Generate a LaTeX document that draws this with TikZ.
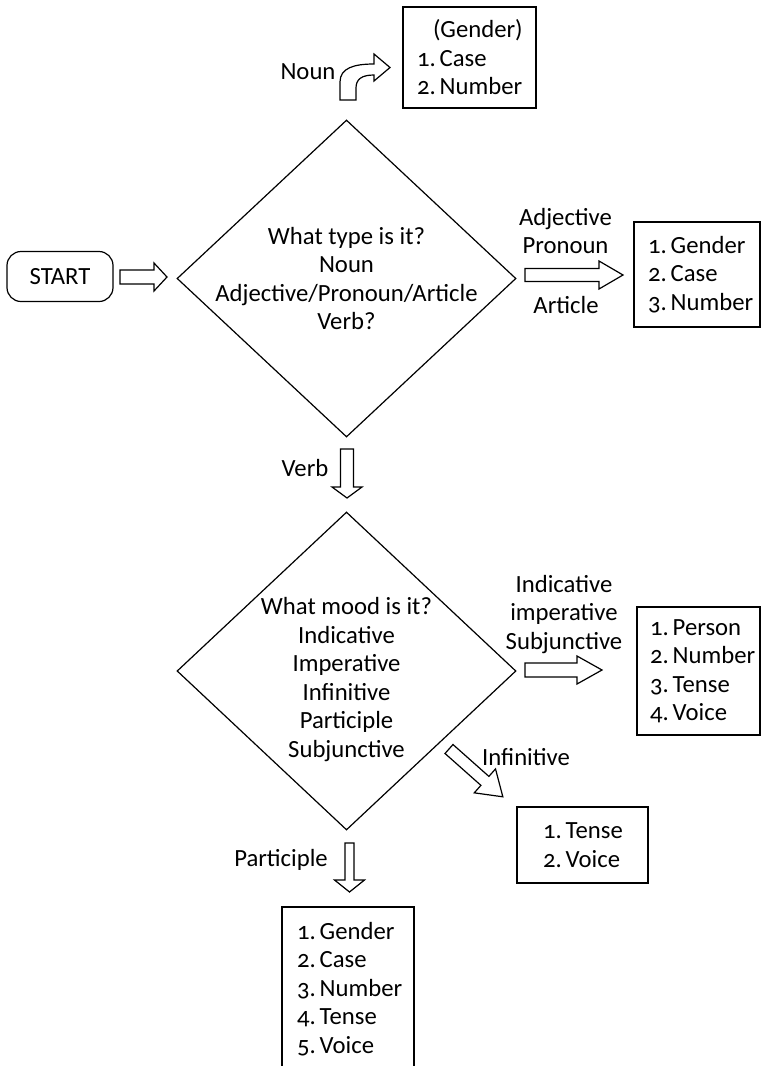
\documentclass[tikz,border=0pt]{standalone}
\usepackage{fontspec}
\setmainfont[Numbers=OldStyle]{Carlito}
\usetikzlibrary{shapes.geometric}
\frenchspacing
\hyphenpenalty=10000
\exhyphenpenalty=10000
\hbadness=10000
\hfuzz=100pt
\newcommand\itm[2]{#1.\kern4pt#2}
\newcommand\blockarr[7]{% name, start, angle, length, shaft half, head half, head length
  \coordinate (#1) at #2;
  \draw[arrline,shift={(#1)},rotate=#3] (0,-#5) -- ({#4-#7},-#5) -- ({#4-#7},-#6) -- (#4,0)
    -- ({#4-#7},#6) -- ({#4-#7},#5) -- (0,#5) -- cycle;}
\begin{document}
\begin{tikzpicture}[x=1pt,y=-1pt,
  every node/.style={font=\fontsize{24.7}{28.5}\selectfont, inner sep=0pt},
  arrline/.style={draw=black, line width=1.2pt, fill=white, line join=miter},
  box/.style={draw, line width=1.2pt, align=left, anchor=center},
  dia/.style={diamond, draw, line width=1.2pt, inner sep=0pt},
  lbl/.style={align=center}]
\useasboundingbox (0,0) rectangle (761,1066);
\clip (0,0) rectangle (761,1066);

% start
\node[draw, line width=1.2pt, rounded corners=14pt, minimum width=106pt, minimum height=50pt] (start) at (60,276.5) {START};

% diamonds
\node[dia, minimum width=339pt, minimum height=317pt] (d1) at (346.5,278.5) {};
\node[lbl] (d1t) at (d1.center) {What type is it?\\Noun\\Adjective/Pronoun/Article\\Verb?};
\node[dia, minimum width=339pt, minimum height=318pt] (d2) at (346.5,671) {};
\node[lbl] (d2t) at (346.5,679.5) {What mood is it?\\Indicative\\Imperative\\Infinitive\\Participle\\Subjunctive};

% boxes
\node[box, minimum width=133pt, minimum height=101pt, text width=105pt, inner xsep=14pt] (b1) at (469.5,57.5) {\hspace*{16pt}(Gender)\\\itm{1}{Case}\\\itm{2}{Number}};
\node[box, minimum width=126pt, minimum height=105pt, text width=98pt, inner xsep=14pt] (b2) at (697,274.5) {\itm{1}{Gender}\\\itm{2}{Case}\\\itm{3}{Number}};
\node[box, minimum width=123pt, minimum height=128pt, text width=97pt, inner xsep=13pt] (b3) at (698.5,671) {\itm{1}{Person}\\\itm{2}{Number}\\\itm{3}{Tense}\\\itm{4}{Voice}};
\node[box, minimum width=131pt, minimum height=76pt, text width=79pt, inner xsep=26pt] (b4) at (582.5,845) {\itm{1}{Tense}\\\itm{2}{Voice}};
\node[box, minimum width=132pt, minimum height=164pt, text width=102pt, inner xsep=15pt] (b5) at (348,989) {\itm{1}{Gender}\\\itm{2}{Case}\\\itm{3}{Number}\\\itm{4}{Tense}\\\itm{5}{Voice}};

% block arrows
\blockarr{a0}{(120,277)}{0}{47}{7}{14}{13}
\blockarr{a1}{(525,275)}{0}{98}{6.5}{14}{24}
\blockarr{a2}{(347,449)}{-90}{49}{6.5}{15}{11}
\blockarr{a3}{(525,670)}{0}{77}{7}{14}{25}
\blockarr{a4}{(449,749)}{-41.6}{72}{6}{16}{24}
\blockarr{a5}{(349.5,843)}{-90}{49}{4.5}{15}{12}

% curved arrow (Noun)
\coordinate (cn) at (340,100);
\draw[arrline] (cn) -- (340,82) .. controls (340,68) and (354,64) .. (374,64) -- (374,54) -- (390,67.5) -- (374,81) -- (374,75)
  .. controls (362,75) and (356,79) .. (356,88) -- (356,100) -- cycle;

% labels
\node (lnoun) at (308,72) {Noun};
\node[lbl] (ladj) at (565.5,231) {Adjective\\Pronoun};
\node (lart) at (566,305) {Article};
\node (lverb) at (305,468) {Verb};
\node[lbl] (lind) at (564,614.5) {Indicative\\imperative\\Subjunctive};
\node (linf) at (526,757) {Infinitive};
\node (lpart) at (281,860) {Participle};
\end{tikzpicture}
\end{document}
